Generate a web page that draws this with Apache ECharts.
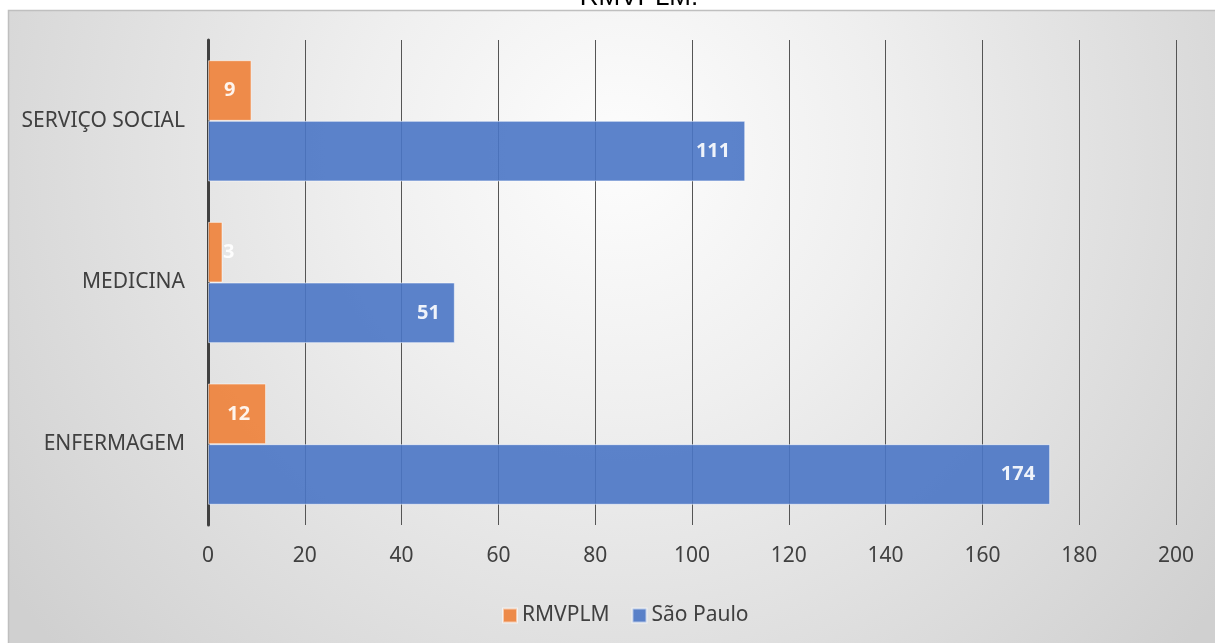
<!DOCTYPE html>
<html>
<head>
<meta charset="utf-8">
<script src="https://cdn.jsdelivr.net/npm/echarts@6/dist/echarts.min.js"></script>
<style>
html,body{margin:0;padding:0;background:#fff;}
#chart{width:1215px;height:643px;}
</style>
</head>
<body>
<div id="chart"></div>
<script>
const titleText = 'RMVPLM.';
const categories = ['ENFERMAGEM', 'MEDICINA', 'SERVIÇO SOCIAL'];
const seriesNames = ['RMVPLM', 'São Paulo'];
const rmvplm = [12, 3, 9];
const saoPaulo = [174, 51, 111];
const xMin = 0, xMax = 200, xInterval = 20;

const FONT = '"Noto Sans", sans-serif';
const chart = echarts.init(document.getElementById('chart'));

function barLabel(v) {
  if (v < 5) {
    return { value: v, label: { position: 'insideLeft', distance: 15 } };
  }
  return { value: v };
}

const option = {
  backgroundColor: '#ffffff',
  animation: false,
  title: {
    text: titleText,
    left: 634,
    textAlign: 'center',
    top: -20,
    textStyle: { fontFamily: '"Liberation Sans", Arial, sans-serif', fontSize: 26, fontWeight: 'normal', color: '#000' }
  },
  graphic: [{
    type: 'rect',
    z: -10,
    silent: true,
    shape: { x: 8.5, y: 10.5, width: 1220, height: 650 },
    style: {
      fill: new echarts.graphic.RadialGradient(0.5, 0.22, 1.15, [
        { offset: 0, color: '#fdfdfd' },
        { offset: 0.35, color: '#efefef' },
        { offset: 1, color: '#d0d0d0' }
      ]),
      stroke: '#bfbfbf',
      lineWidth: 1.5
    }
  }],
  legend: {
    data: seriesNames,
    left: 497,
    top: 600,
    icon: 'rect',
    itemWidth: 14,
    itemHeight: 14,
    itemGap: 22,
    textStyle: { fontFamily: FONT, fontSize: 21, color: '#404040' }
  },
  grid: { left: 208, right: 39, top: 40, bottom: 118, containLabel: false },
  xAxis: {
    type: 'value',
    min: xMin,
    max: xMax,
    interval: xInterval,
    axisLine: { show: false },
    axisTick: { show: false },
    axisLabel: { fontFamily: FONT, fontSize: 21, color: '#404040', margin: 21 },
    splitLine: { show: true, lineStyle: { color: '#555555', width: 1 } }
  },
  yAxis: {
    type: 'category',
    data: categories,
    axisLine: { show: true, lineStyle: { color: '#404040', width: 3 } },
    axisTick: { show: false },
    axisLabel: { fontFamily: FONT, fontSize: 21, color: '#404040', margin: 23 }
  },
  series: [
    {
      name: seriesNames[0],
      type: 'bar',
      data: rmvplm.map(barLabel),
      barGap: '0%',
      barCategoryGap: '25%',
      itemStyle: { color: '#EE8138', opacity: 0.9, borderColor: 'rgba(255,255,255,0.6)', borderWidth: 1 },
      label: { show: true, position: 'insideRight', distance: 16, color: '#ffffff', fontFamily: FONT, fontSize: 20, fontWeight: 'bold' }
    },
    {
      name: seriesNames[1],
      type: 'bar',
      data: saoPaulo.map(barLabel),
      barGap: '0%',
      barCategoryGap: '25%',
      itemStyle: { color: '#4A76C5', opacity: 0.9, borderColor: 'rgba(255,255,255,0.6)', borderWidth: 1 },
      label: { show: true, position: 'insideRight', distance: 15, color: '#ffffff', fontFamily: FONT, fontSize: 20, fontWeight: 'bold' }
    }
  ]
};
chart.setOption(option);
</script>
</body>
</html>
